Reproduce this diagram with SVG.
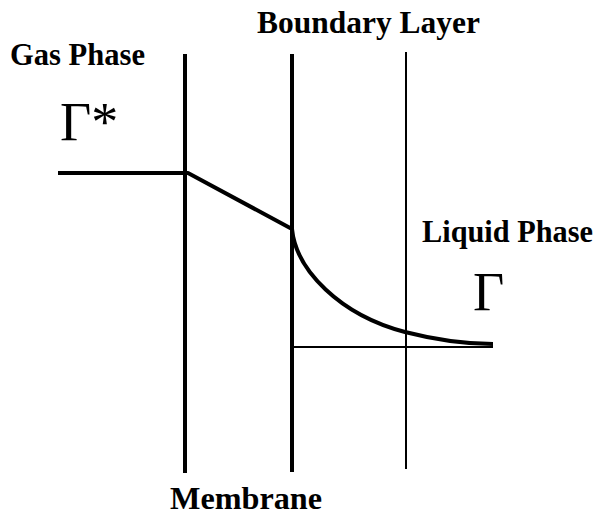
<svg xmlns="http://www.w3.org/2000/svg" width="597" height="516" viewBox="0 0 597 516">
<style>
.lbl{font-family:"Liberation Serif","Times New Roman",serif;font-weight:bold;font-size:31px;fill:#000}
.sym{font-family:"Liberation Serif","Times New Roman",serif;font-size:54px;fill:#000}
.wall{stroke:#000;stroke-width:4;fill:none}
.thin{stroke:#000;stroke-width:2;fill:none}
.prof{stroke:#000;stroke-width:4;fill:none;stroke-linejoin:round}
</style>
<rect width="597" height="516" fill="#fff"/>
<g id="membrane-left"><line class="wall" x1="185" y1="54" x2="185" y2="473"/></g>
<g id="membrane-right"><line class="wall" x1="292" y1="54" x2="292" y2="472"/></g>
<g id="boundary-edge"><line class="thin" x1="406" y1="52" x2="406" y2="469"/></g>
<g id="connectors">
<path class="prof" d="M58,173 L188,173 L292,229"/>
<path class="prof" d="M292,229 C296,270 340,315 405,332 C440,341 470,344 493,344"/>
<line class="thin" x1="292" y1="347" x2="493" y2="347"/>
</g>
<g id="labels">
<text class="lbl" x="10" y="65" textLength="135" lengthAdjust="spacingAndGlyphs">Gas Phase</text>
<text class="lbl" x="257" y="33" textLength="223" lengthAdjust="spacingAndGlyphs">Boundary Layer</text>
<text class="lbl" x="422" y="242" textLength="171" lengthAdjust="spacingAndGlyphs">Liquid Phase</text>
<text class="lbl" x="170" y="509" textLength="152" lengthAdjust="spacingAndGlyphs">Membrane</text>
<text class="sym" x="60" y="140">Γ*</text>
<text class="sym" x="473" y="310">Γ</text>
</g>
</svg>
